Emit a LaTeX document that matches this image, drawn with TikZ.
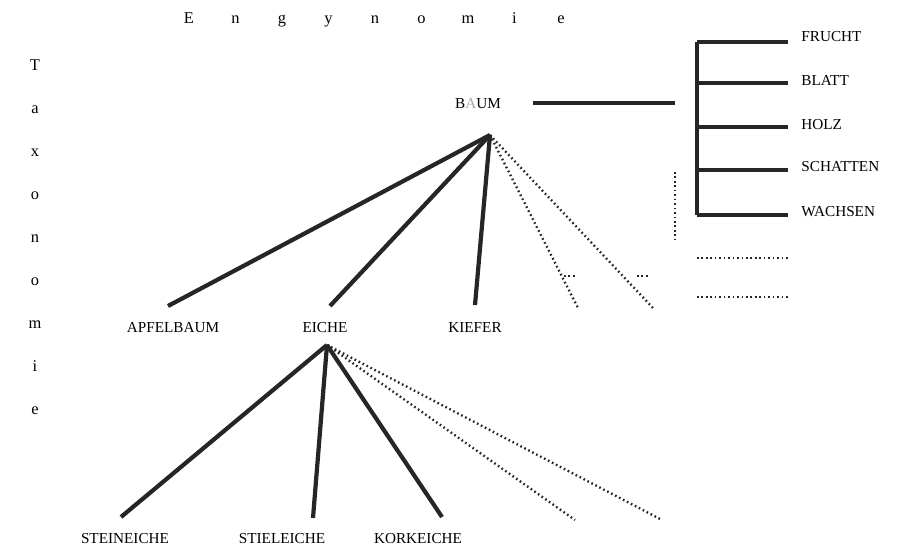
\documentclass[tikz,border=0pt]{standalone}
\usepackage{fontspec}
\setmainfont{Liberation Serif}
\begin{document}
\begin{tikzpicture}[
    x=0.03cm, y=-0.03cm,
    word/.style={inner sep=1pt, font=\fontsize{13}{15}\selectfont},
    letter/.style={inner sep=0pt, anchor=base, font=\fontsize{14}{16}\selectfont},
    branch/.style={line width=3.6pt, black!85},
    open/.style={line width=2pt, black!85, dash pattern=on 1.4pt off 2.4pt},
    part/.style={line width=3pt, black!85}
]
\useasboundingbox (0,0) rectangle (897,547);

% Achsen
\foreach \l [count=\i from 0] in {E,n,g,y,n,o,m,i,e}
    \node[letter] (eng\i) at (189+46.5*\i,23) {\l};
\foreach \l [count=\i from 0] in {T,a,x,o,n,o,m,i,e}
    \node[letter] (tax\i) at (35,70+43*\i) {\l};

% Begriffe
\node[word] (baum) at (478,104) {B\textcolor{black!35}{A}UM};
\node[word] (apfel) at (173,328) {APFELBAUM};
\node[word] (eiche) at (325,328) {EICHE};
\node[word] (kiefer) at (475,328) {KIEFER};
\node[word] (stein) at (125,539) {STEINEICHE};
\node[word] (stiel) at (282,539) {STIELEICHE};
\node[word] (kork) at (418,539) {KORKEICHE};

\node[word, anchor=west] (frucht) at (800,37) {FRUCHT};
\node[word, anchor=west] (blatt) at (800,80) {BLATT};
\node[word, anchor=west] (holz) at (800,125) {HOLZ};
\node[word, anchor=west] (schatten) at (800,167) {SCHATTEN};
\node[word, anchor=west] (wachsen) at (800,212) {WACHSEN};

% Knotenpunkte
\coordinate (baumtop) at (490,135);
\coordinate (eichetop) at (327,345);
\coordinate (apfelend) at (168,306);
\coordinate (eicheend) at (330,306);
\coordinate (kieferend) at (475,305);
\coordinate (mehrA) at (578,308);
\coordinate (mehrB) at (653,308);
\coordinate (steinend) at (121,517);
\coordinate (stielend) at (313,518);
\coordinate (korkend) at (442,517);
\coordinate (mehrC) at (575,520);
\coordinate (mehrD) at (662,520);

% Partonomie
\coordinate (teil) at (533,103);
\coordinate (teilend) at (675,103);
\coordinate (klammer0) at (697,42);
\coordinate (klammer1) at (697,83);
\coordinate (klammer2) at (697,127);
\coordinate (klammer3) at (697,170);
\coordinate (klammer4) at (697,215);
\coordinate (ende0) at (788,42);
\coordinate (ende1) at (788,83);
\coordinate (ende2) at (788,127);
\coordinate (ende3) at (788,170);
\coordinate (ende4) at (788,215);
\coordinate (offen0) at (675,172);
\coordinate (offen1) at (675,240);
\coordinate (weiter0) at (697,258);
\coordinate (weiter1) at (788,258);
\coordinate (weiter2) at (697,297);
\coordinate (weiter3) at (788,297);
\coordinate (punktA0) at (564,276);
\coordinate (punktA1) at (577,276);
\coordinate (punktB0) at (637,276);
\coordinate (punktB1) at (650,276);

% Verbindungen
\draw[branch] (baumtop) -- (apfelend);
\draw[branch] (baumtop) -- (eicheend);
\draw[branch] (baumtop) -- (kieferend);
\draw[open] (baumtop) -- (mehrA);
\draw[open] (baumtop) -- (mehrB);
\draw[open] (punktA0) -- (punktA1);
\draw[open] (punktB0) -- (punktB1);

\draw[branch] (eichetop) -- (steinend);
\draw[branch] (eichetop) -- (stielend);
\draw[branch] (eichetop) -- (korkend);
\draw[open] (eichetop) -- (mehrC);
\draw[open] (eichetop) -- (mehrD);

\draw[part] (teil) -- (teilend);
\draw[part] (klammer0) -- (klammer4);
\foreach \i in {0,...,4}
    \draw[part] (klammer\i) -- (ende\i);
\draw[open] (offen0) -- (offen1);
\draw[open] (weiter0) -- (weiter1);
\draw[open] (weiter2) -- (weiter3);

\end{tikzpicture}
\end{document}
